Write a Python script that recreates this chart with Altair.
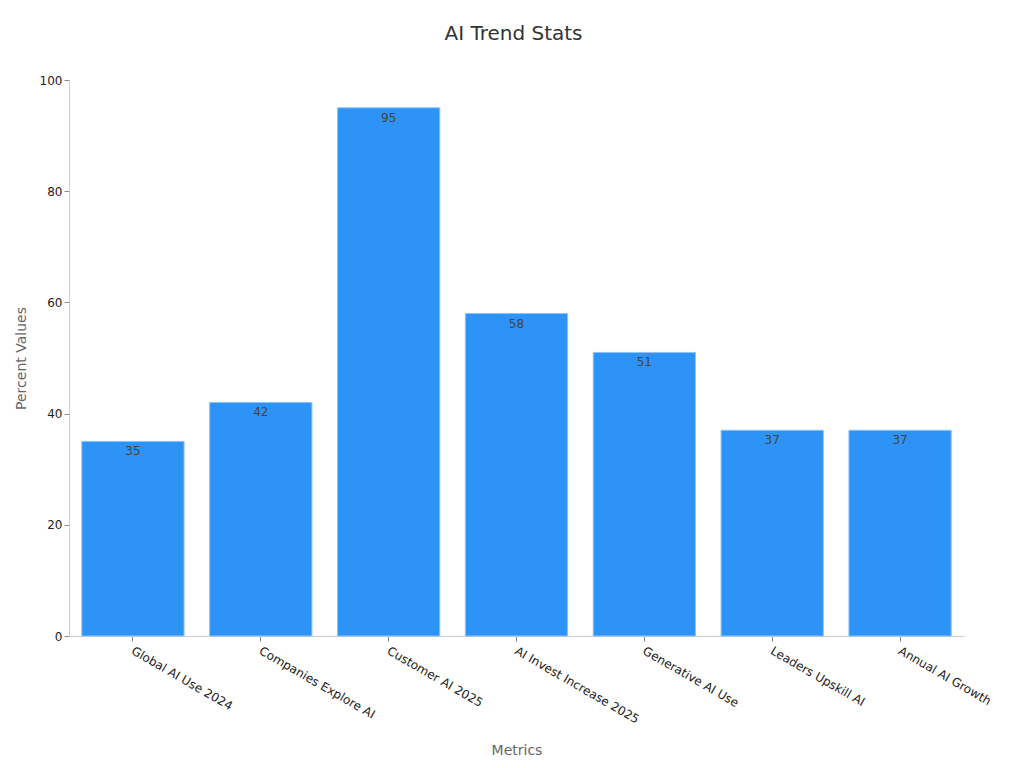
import altair as alt
import pandas as pd

categories = ["Global AI Use 2024", "Companies Explore AI", "Customer AI 2025",
              "AI Invest Increase 2025", "Generative AI Use", "Leaders Upskill AI",
              "Annual AI Growth"]
values = [35, 42, 95, 58, 51, 37, 37]

df = pd.DataFrame({"Metric": categories, "Value": values})

base = alt.Chart(df).encode(
    x=alt.X("Metric:N", sort=categories, title="Metrics",
            scale=alt.Scale(paddingInner=0.2, paddingOuter=0.1),
            axis=alt.Axis(labelAngle=30, labelAlign="left", labelBaseline="top",
                          labelFontSize=12, labelColor="#222", titleColor="#666",
                          titleFontSize=14, titlePadding=18, titleFontWeight="normal",
                          domainColor="#ccc", tickColor="#888", labelPadding=4,
                          labelOffset=2)),
    y=alt.Y("Value:Q", title="Percent Values",
            scale=alt.Scale(domain=[0, 100]),
            axis=alt.Axis(values=[0, 20, 40, 60, 80, 100], grid=False,
                          labelFontSize=12, labelColor="#222", titleColor="#666",
                          titleFontSize=14, titleFontWeight="normal", titlePadding=11,
                          domainColor="#ccc", tickColor="#888")),
)

bars = base.mark_bar(color="#2E93F7", stroke="#8cc4f8", strokeWidth=1)
labels = base.mark_text(baseline="top", dy=5, fontSize=12, color="#444").encode(
    text="Value:Q")

chart = (bars + labels).properties(
    width=895, height=556,
    padding={"left": 6, "top": 16, "right": 5, "bottom": 5},
    title=alt.TitleParams("AI Trend Stats", fontSize=20, fontWeight="normal",
                          color="#333", offset=30, dx=-3),
).configure(font="DejaVu Sans").configure_view(stroke=None)

chart.save("out.html", embed_options={"renderer": "svg", "actions": False})
